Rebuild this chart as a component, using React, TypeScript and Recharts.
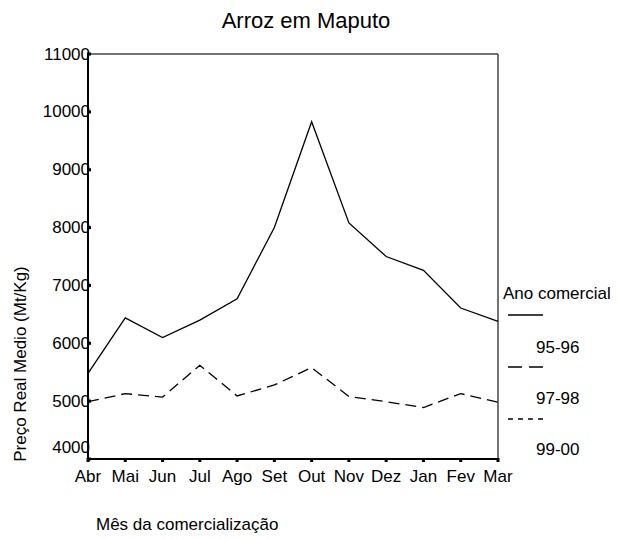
import React from "react";
import { LineChart, Line, XAxis, YAxis, ReferenceLine } from "recharts";

const months = ["Abr", "Mai", "Jun", "Jul", "Ago", "Set", "Out", "Nov", "Dez", "Jan", "Fev", "Mar"];
const preco9596 = [5480, 6440, 6100, 6400, 6770, 8000, 9830, 8080, 7500, 7260, 6610, 6380];
const preco9798 = [4990, 5130, 5070, 5620, 5090, 5280, 5580, 5080, 4990, 4890, 5130, 4980];
const preco9900 = [null, null, null, null, null, null, null, null, null, null, null, null];
const yTicks = [4000, 5000, 6000, 7000, 8000, 9000, 10000, 11000];

const seriesNames = ["95-96", "97-98", "99-00"];
const seriesDash = ["0", "11 6", "4 4"];
const legendDash = ["0", "14 7", "5 5"];

const data = months.map((m, i) => ({
  month: m,
  s9596: preco9596[i],
  s9798: preco9798[i],
  s9900: preco9900[i],
}));

const FONT = "'Liberation Sans', Arial, sans-serif";
const FS = 17;

const YTick = (props: any) => {
  const { x, y, payload } = props;
  const ty = payload.value === 4000 ? y - 12 : y;
  return (
    <g>
      <rect x={x - 1} y={y - 1.5} width={4} height={3} fill="#000" />
      <text x={x + 2} y={ty} textAnchor="end" dominantBaseline="central" fontSize={FS} fontFamily={FONT} fill="#000">
        {payload.value}
      </text>
    </g>
  );
};

const XTick = (props: any) => {
  const { x, y, payload } = props;
  return (
    <g>
      <rect x={x - 1.5} y={y - 1} width={3} height={4} fill="#000" />
      <text x={x} y={y + 17} textAnchor="middle" dominantBaseline="central" fontSize={FS} fontFamily={FONT} fill="#000">
        {payload.value}
      </text>
    </g>
  );
};

export default function App() {
  return (
    <div style={{ position: "absolute", left: 0, top: 0, width: 621, height: 539, background: "#fff" }}>
      <LineChart width={621} height={539} data={data} margin={{ top: 54, right: 123, left: 0, bottom: 0 }}>
        <XAxis
          dataKey="month"
          scale="point"
          padding={{ left: 0, right: 0 }}
          height={80}
          tickSize={0}
          tickMargin={0}
          tickLine={false}
          axisLine={{ stroke: "#000", strokeWidth: 2 }}
          tick={<XTick />}
          interval={0}
        />
        <YAxis
          domain={[4000, 11000]}
          ticks={yTicks}
          width={88}
          tickSize={0}
          tickMargin={0}
          tickLine={false}
          axisLine={{ stroke: "#000", strokeWidth: 2 }}
          tick={<YTick />}
          interval={0}
        />
        <ReferenceLine y={11000} stroke="#444" strokeWidth={1.5} />
        <ReferenceLine x="Mar" stroke="#444" strokeWidth={1.5} />
        <Line dataKey="s9596" name={seriesNames[0]} stroke="#000" strokeWidth={1.3} dot={false} isAnimationActive={false} />
        <Line dataKey="s9798" name={seriesNames[1]} stroke="#000" strokeWidth={1.3} strokeDasharray={seriesDash[1]} dot={false} isAnimationActive={false} />
        <Line dataKey="s9900" name={seriesNames[2]} stroke="#000" strokeWidth={1.3} strokeDasharray={seriesDash[2]} dot={false} isAnimationActive={false} />
      </LineChart>
      <svg width={621} height={539} style={{ position: "absolute", left: 0, top: 0, pointerEvents: "none" }} fontFamily={FONT}>
        <text x={306} y={20} textAnchor="middle" dominantBaseline="central" fontSize={22} fill="#000">
          Arroz em Maputo
        </text>
        <text x={96} y={524} dominantBaseline="central" fontSize={FS} fill="#000">
          Mês da comercialização
        </text>
        <text
          transform="translate(20,364) rotate(-90)"
          textAnchor="middle"
          dominantBaseline="central"
          fontSize={FS}
          fill="#000"
        >
          Preço Real Medio (Mt/Kg)
        </text>
        <text x={503} y={293} dominantBaseline="central" fontSize={FS} fill="#000">
          Ano comercial
        </text>
        {seriesNames.map((name, i) => (
          <g key={name}>
            <line x1={508} x2={543} y1={315 + i * 52} y2={315 + i * 52} stroke="#000" strokeWidth={1.3} strokeDasharray={legendDash[i]} />
            <text x={536} y={347 + i * 51} dominantBaseline="central" fontSize={FS} fill="#000">
              {name}
            </text>
          </g>
        ))}
      </svg>
    </div>
  );
}
